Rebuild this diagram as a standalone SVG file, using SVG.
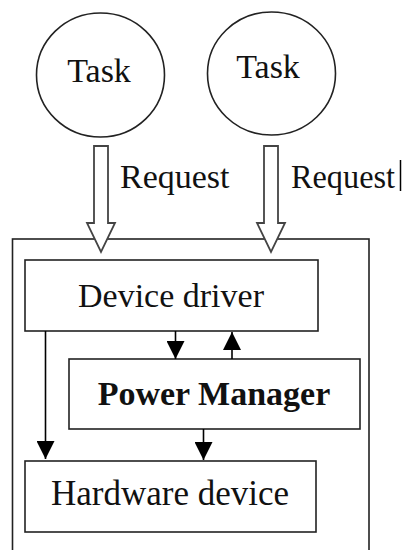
<svg xmlns="http://www.w3.org/2000/svg" width="402" height="550" viewBox="0 0 402 550">
  <defs>
    <marker id="arrow" viewBox="0 0 18 18" markerWidth="18" markerHeight="18" refX="18" refY="9" orient="auto" markerUnits="userSpaceOnUse">
      <path d="M0,0 L18,9 L0,18 Z" fill="#000"/>
    </marker>
  </defs>
  <style>
    .box { fill: #fff; stroke: #222; stroke-width: 1.6; }
    .task { fill: #fff; stroke: #222; stroke-width: 1.6; }
    .label { font-family: "Liberation Serif", "Times New Roman", serif; font-size: 34px; fill: #111; }
    .bold { font-weight: bold; }
    .req { fill: #fff; stroke: #444; stroke-width: 1.8; stroke-linejoin: miter; }
    .link { fill: none; stroke: #000; stroke-width: 1.6; marker-end: url(#arrow); }
  </style>
  <rect width="402" height="550" fill="#fff"/>

  <!-- outer container (runs past the bottom edge) -->
  <g id="system">
    <rect class="box" x="12.5" y="239" width="356.5" height="330"/>
  </g>

  <g id="task1">
    <ellipse class="task" cx="100.5" cy="75" rx="64" ry="62"/>
    <text class="label" x="99" y="82" text-anchor="middle">Task</text>
  </g>
  <g id="task2">
    <ellipse class="task" cx="271.5" cy="73.5" rx="64" ry="61.5"/>
    <text class="label" x="268" y="78" text-anchor="middle">Task</text>
  </g>

  <g id="device-driver">
    <rect class="box" x="25" y="260" width="293" height="71"/>
    <text class="label" x="171" y="307" text-anchor="middle">Device driver</text>
  </g>

  <g id="power-manager">
    <rect class="box" x="69" y="359" width="291" height="70"/>
    <text class="label bold" x="214" y="405" text-anchor="middle">Power Manager</text>
  </g>

  <g id="hardware-device">
    <rect class="box" x="25" y="461" width="291" height="71"/>
    <text class="label" x="170" y="505" text-anchor="middle" style="font-size:35px">Hardware device</text>
  </g>

  <g id="connectors">
    <!-- hollow request arrows -->
    <path class="req" d="M94,146 H108 V223 H115 L101,252 L87,223 H94 Z"/>
    <path class="req" d="M264,146 H278 V223 H285 L271,252 L257,223 H264 Z"/>
    <text class="label" x="120" y="188">Request</text>
    <text class="label" x="291" y="188" textLength="104" lengthAdjust="spacingAndGlyphs">Request</text>
    <line x1="400.5" y1="160" x2="400.5" y2="191" stroke="#000" stroke-width="1.5"/>

    <!-- driver / power manager / hardware links -->
    <line class="link" x1="175.5" y1="331" x2="175.5" y2="359"/>
    <line class="link" x1="232" y1="359" x2="232" y2="332"/>
    <line class="link" x1="45.5" y1="331" x2="45.5" y2="459"/>
    <line class="link" x1="203.5" y1="429" x2="203.5" y2="460"/>
  </g>
</svg>
